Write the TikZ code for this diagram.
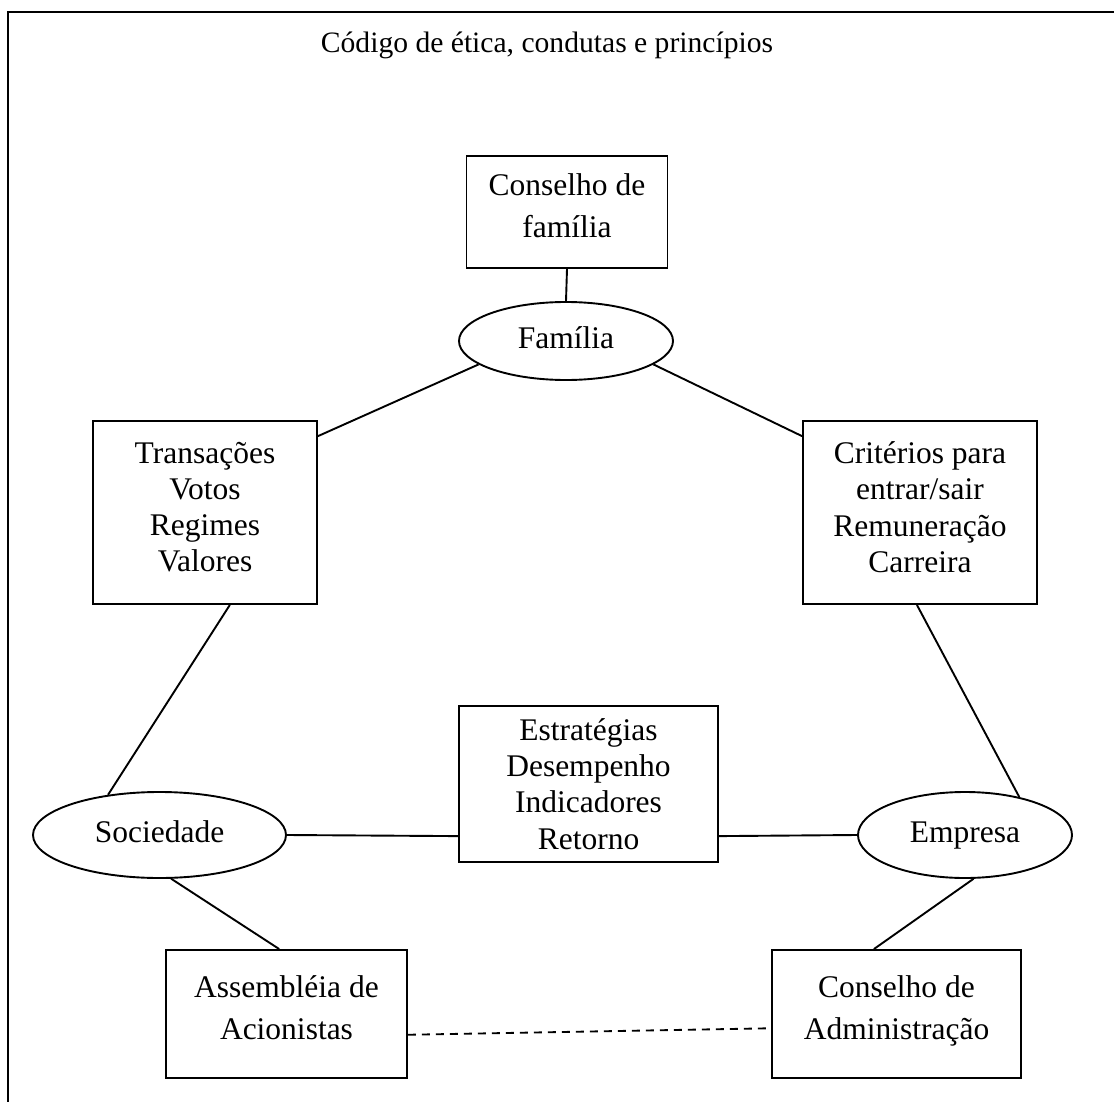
\documentclass[tikz,border=0pt]{standalone}
\usepackage{fontspec}
\setmainfont{Liberation Serif}
\usetikzlibrary{shapes.geometric,calc}
\begin{document}
\begin{tikzpicture}[x=1pt,y=-1pt,
  twoline/.style={draw,line width=1.9pt,inner sep=0pt,align=center,
    font=\fontsize{31.5}{42}\selectfont},
  fourline/.style={draw,line width=1.9pt,inner sep=0pt,align=center,
    font=\fontsize{31.5}{36.2}\selectfont},
  oval/.style={draw,ellipse,line width=1.9pt,inner sep=0pt,
    text height=22pt,text depth=7pt,
    font=\fontsize{31.5}{36}\selectfont},
  link/.style={line width=1.9pt},
  dashlink/.style={line width=1.9pt,dash pattern=on 8pt off 6pt}]
\useasboundingbox (0,0) rectangle (1114,1102);
\clip (0,0) rectangle (1114,1102);

% outer frame (continues past the right and bottom edges)
\draw[line width=2.6pt] (1130,12) -- (8,12) -- (8,1120);

% title
\node[anchor=base,font=\fontsize{29.6}{34}\selectfont] (title) at (547,53)
  {Código de ética, condutas e princípios};

% nodes
\node[twoline,minimum width=201,minimum height=112] (cf) at (567,212)
  {Conselho de\\família\strut};
\node[oval,minimum width=214,minimum height=78] (fam) at (566,341) {Família};
\node[fourline,minimum width=224,minimum height=183] (trans) at (205,512.5)
  {Transações\\Votos\\Regimes\\Valores\strut};
\node[fourline,minimum width=234,minimum height=183] (crit) at (920,512.5)
  {Critérios para\\entrar/sair\\Remuneração\\Carreira\strut};
\node[oval,minimum width=253,minimum height=86] (soc) at (159.5,835) {Sociedade};
\node[fourline,minimum width=259,minimum height=156] (est) at (588.5,784)
  {Estratégias\\Desempenho\\Indicadores\\Retorno};
\node[oval,minimum width=214,minimum height=86] (emp) at (965,835) {Empresa};
\node[twoline,minimum width=241,minimum height=128] (ass) at (286.5,1014)
  {Assembléia de\\Acionistas\strut};
\node[twoline,minimum width=249,minimum height=128] (adm) at (896.5,1014)
  {Conselho de\\Administração\strut};

% connectors
\draw[link] (cf.south) -- (fam.north);
\draw[link] ($(trans.north east)!0.087!(trans.south east)$) -- (fam.195);
\draw[link] ($(crit.north west)!0.087!(crit.south west)$) -- (fam.345);
\draw[link] ($(trans.south west)!0.61!(trans.south east)$) -- (soc.142);
\draw[link] ($(crit.south west)!0.487!(crit.south east)$) -- (emp.35);
\draw[link] (soc.east) -- ($(est.north west)!0.83!(est.south west)$);
\draw[link] ($(est.north east)!0.83!(est.south east)$) -- (emp.west);
\draw[link] (soc.-75) -- ($(ass.north west)!0.47!(ass.north east)$);
\draw[link] (emp.-79) -- ($(adm.north west)!0.41!(adm.north east)$);
\draw[dashlink] ($(ass.north east)!0.66!(ass.south east)$) --
  ($(adm.north west)!0.61!(adm.south west)$);
\end{tikzpicture}
\end{document}
